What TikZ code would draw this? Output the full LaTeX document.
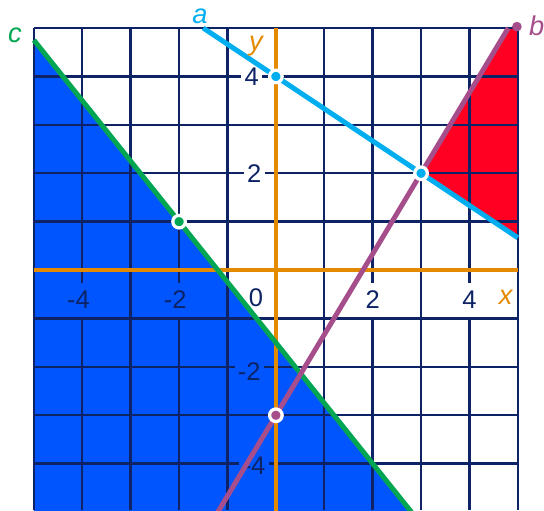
\documentclass[tikz,border=0pt]{standalone}
\usepackage{fontspec}
\setmainfont{Liberation Sans}
\definecolor{gridnavy}{HTML}{0D2366}
\definecolor{axisor}{HTML}{E38A00}
\definecolor{lineA}{HTML}{00AEEF}
\definecolor{lineB}{HTML}{A64D8C}
\definecolor{lineC}{HTML}{00A651}
\definecolor{fillblue}{HTML}{0055FF}
\definecolor{fillred}{HTML}{FF0022}
\tikzset{
  gridline/.style={draw=gridnavy, line width=1.4pt},
  axisline/.style={draw=axisor, line width=2.2pt},
  graphline/.style={line width=2.9pt},
  tick/.style={text=gridnavy, font=\fontsize{15}{18}\selectfont, inner xsep=2pt, inner ysep=5pt},
  letter/.style={font=\fontsize{16}{19}\selectfont\itshape, inner sep=0pt},
  ptdot/.style={circle, fill=#1, draw=white, line width=1.9pt, minimum size=0.26cm, inner sep=0pt},
  enddot/.style={circle, fill=#1, minimum size=0.2cm, inner sep=0pt},
}
\begin{document}
\begin{tikzpicture}[x=1cm,y=1cm]
\useasboundingbox (-5.70,-4.96) rectangle (5.54,5.58);
\clip (-5.70,-4.96) rectangle (5.54,5.58);
% coordinates
\coordinate (cTop) at (-5,4.75);
\coordinate (cBot) at (2.8,-5);
\coordinate (aTop) at (-1.5,5);
\coordinate (aEnd) at (5,0.6667);
\coordinate (bBot) at (-1.2,-5);
\coordinate (bTop) at (4.8,5);
% regions
\fill[fillblue] (cTop) -- (cBot) -- (-5,-5) -- cycle;
\fill[fillred] (3,2) -- (bTop) -- (5,5) -- (aEnd) -- cycle;
% grid
\draw[gridline] (-5,-4.96) grid (5,5);
% tick labels
\node[tick, fill=fillblue] (tx1) at (-4.08,-0.62) {-4};
\node[tick, fill=fillblue] (tx2) at (-2.08,-0.62) {-2};
\node[tick, fill=white, inner ysep=2pt, inner xsep=1pt] (tx3) at (-0.41,-0.58) {0};
\node[tick, fill=white] (tx4) at (2,-0.62) {2};
\node[tick, fill=white] (tx5) at (4,-0.62) {4};
\node[tick, fill=white, inner ysep=2pt] (ty1) at (-0.5,4) {4};
\node[tick, fill=white, inner ysep=2pt] (ty2) at (-0.45,2) {2};
\node[tick, fill=fillblue, inner ysep=2pt] (ty3) at (-0.55,-2.1) {-2};
\node[tick, fill=fillblue, inner ysep=2pt] (ty4) at (-0.45,-4.05) {-4};
% axes
\coordinate (xL) at (-5,0);
\coordinate (xR) at (5,0);
\coordinate (yT) at (0,5);
\coordinate (yB) at (0,-5);
\draw[axisline] (xL) -- (xR);
\draw[axisline] (yT) -- (yB);
% lines
\draw[graphline, lineC] (cTop) -- (cBot);
\draw[graphline, lineA] (aTop) -- (aEnd);
\draw[graphline, lineB] (bBot) -- (bTop);
% points
\node[ptdot=lineC] (p1) at (-2,1) {};
\node[ptdot=lineA] (p2) at (0,4) {};
\node[ptdot=lineA] (p3) at (3,2) {};
\node[ptdot=lineB] (p4) at (0,-3) {};
\node[enddot=lineB] (p5) at (4.98,5.03) {};
% letters
\node[letter, text=lineC] (lc) at (-5.39,4.86) {c};
\node[letter, text=lineA] (la) at (-1.57,5.25) {a};
\node[letter, text=lineB] (lb) at (5.39,5.04) {b};
\node[letter, text=axisor] (ly) at (-0.41,4.62) {y};
\node[letter, text=axisor] (lx) at (4.75,-0.56) {x};
\end{tikzpicture}
\end{document}
